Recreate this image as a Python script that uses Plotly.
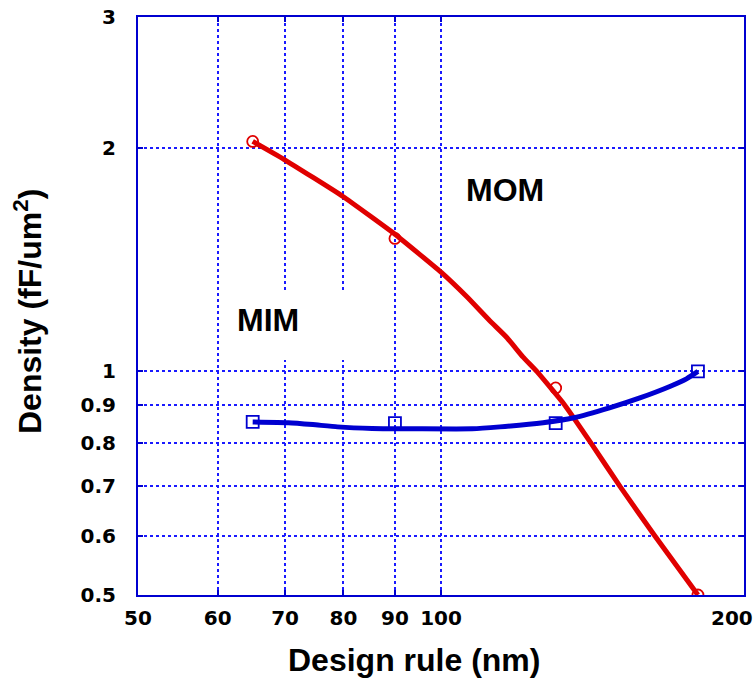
import plotly.graph_objects as go

# Measured points
design_rule = [65, 90, 130, 180]
mom_density = [2.04, 1.51, 0.95, 0.50]
mim_density = [0.855, 0.852, 0.852, 1.00]

# Fitted curves
mom_fit_x = [65, 69.8, 79.9, 90.0, 100, 106.1, 111.8, 116.3, 120.6, 124.5, 132.8, 141.0, 150.6, 163.2, 180]
mom_fit_y = [2.04, 1.93, 1.72, 1.53, 1.36, 1.26, 1.17, 1.11, 1.046, 1.0, 0.9, 0.8, 0.7, 0.6, 0.5]
mim_fit_x = [65, 70.5, 74.6, 78.9, 85.4, 107.4, 114.4, 126.3, 135.5, 147.0, 157.6, 169.0, 175.5, 180]
mim_fit_y = [0.855, 0.853, 0.848, 0.842, 0.838, 0.837, 0.842, 0.853, 0.866, 0.893, 0.921, 0.955, 0.978, 1.0]

x_ticks = [50, 60, 70, 80, 90, 100, 200]
x_tick_text = ["50", "60", "70", "80", "90", "100", ""]
x_last_label = "200"
y_ticks = [0.5, 0.6, 0.7, 0.8, 0.9, 1, 2, 3]
y_tick_text = ["0.5", "0.6", "0.7", "0.8", "0.9", "1", "2", "3"]

RED = "#e00000"
BLUE = "#0000d0"
GRID = "#1a1aff"

fig = go.Figure()
fig.add_trace(go.Scatter(x=mom_fit_x, y=mom_fit_y, mode="lines",
                         line=dict(color=RED, width=5, shape="spline", smoothing=0.4),
                         showlegend=False, hoverinfo="skip"))
fig.add_trace(go.Scatter(x=mim_fit_x, y=mim_fit_y, mode="lines",
                         line=dict(color=BLUE, width=5, shape="spline", smoothing=0.4),
                         showlegend=False, hoverinfo="skip"))
fig.add_trace(go.Scatter(x=design_rule, y=mom_density, mode="markers", name="MOM",
                         marker=dict(symbol="circle-open", size=11, color=RED, line=dict(width=1.8, color=RED)),
                         showlegend=False))
fig.add_trace(go.Scatter(x=design_rule, y=mim_density, mode="markers", name="MIM",
                         marker=dict(symbol="square-open", size=12, color=BLUE, line=dict(width=1.8, color=BLUE)),
                         showlegend=False))

axis_common = dict(
    type="log",
    showgrid=True, gridcolor=GRID, gridwidth=1.5, griddash="dot",
    showline=True, linecolor=BLUE, linewidth=2, mirror="ticks",
    ticks="inside", ticklen=5, tickcolor=BLUE, tickwidth=1.5,
    zeroline=False, ticklabeloverflow="allow", automargin=False,
)

tick_font = dict(family="DejaVu Sans", size=20, color="black", weight="bold")

fig.update_xaxes(**axis_common, range=[1.69897, 2.30103],
                 tickvals=x_ticks, ticktext=x_tick_text, ticklabelstandoff=4, tickfont=tick_font)
fig.update_yaxes(**axis_common, range=[-0.30103, 0.4771213],
                 tickvals=y_ticks, ticktext=y_tick_text, ticklabelstandoff=16, tickfont=tick_font)

title_font = dict(family="Liberation Sans, Arial, sans-serif", size=32, color="black")

fig.add_shape(type="rect", xref="paper", yref="paper", x0=0.1436, x1=0.391, y0=0.4066, y1=0.5277,
              fillcolor="white", line=dict(width=0), layer="above")

fig.add_annotation(text=x_last_label, xref="paper", yref="paper", x=1.0182, y=-0.0398,
                   xanchor="right", yanchor="middle", showarrow=False, font=tick_font)
fig.add_annotation(text="<b>MIM</b>", xref="paper", yref="paper", x=0.2145, y=0.4758,
                   xanchor="center", yanchor="middle", showarrow=False, font=title_font)
fig.add_annotation(text="<b>MOM</b>", xref="paper", yref="paper", x=0.6056, y=0.7007,
                   xanchor="center", yanchor="middle", showarrow=False, font=title_font)
fig.add_annotation(text="<b>Design rule (nm)</b>", xref="paper", yref="paper", x=0.4554, y=-0.1125,
                   xanchor="center", yanchor="middle", showarrow=False, font=title_font)
fig.add_annotation(text="<b>Density (fF/um<sup>2</sup>)</b>", xref="paper", yref="paper", x=-0.1815, y=0.4896,
                   xanchor="center", yanchor="middle", showarrow=False, font=title_font, textangle=-90)

fig.update_layout(
    width=756, height=679,
    margin=dict(l=138, r=12, t=17, b=84, autoexpand=False),
    paper_bgcolor="white", plot_bgcolor="white",
    showlegend=False,
)

fig.write_html("out.html")
